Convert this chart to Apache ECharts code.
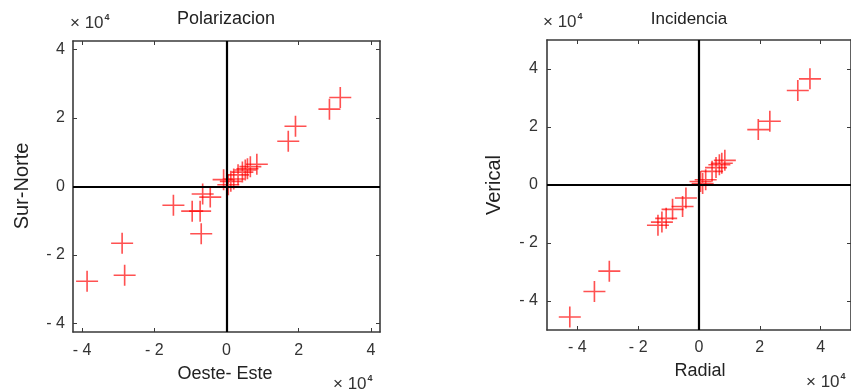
<!DOCTYPE html>
<html>
<head>
<meta charset="utf-8">
<script src="https://cdn.jsdelivr.net/npm/echarts@6/dist/echarts.min.js"></script>
<style>
  html, body { margin: 0; padding: 0; background: #fff; }
  #chart { width: 851px; height: 392px; }
</style>
</head>
<body>
<div id="chart"></div>
<script>
// Values in units of 10^4
const polEsteOeste = [-3.86, -2.89, -2.82, -1.47, -0.95, -0.73, -0.70, -0.66, -0.45, -0.08, 0.05, 0.12, 0.20, 0.32, 0.44, 0.52, 0.58, 0.66, 0.84, 1.71, 1.91, 2.85, 3.15];
const polSurNorte  = [-2.77, -1.66, -2.59, -0.55, -0.72, -0.72, -1.38, -0.22, -0.31, 0.20, 0.05, 0.15, 0.22, 0.34, 0.42, 0.48, 0.52, 0.58, 0.65, 1.32, 1.76, 2.26, 2.60];

const incRadial   = [-4.25, -3.44, -2.95, -1.35, -1.22, -1.08, -0.87, -0.54, -0.43, 0.05, 0.12, 0.22, 0.43, 0.56, 0.67, 0.75, 0.85, 1.95, 2.33, 3.25, 3.65];
const incVertical = [-4.55, -3.67, -2.97, -1.39, -1.28, -1.15, -0.84, -0.74, -0.45, 0.12, 0.05, 0.18, 0.47, 0.60, 0.70, 0.75, 0.85, 1.91, 2.20, 3.26, 3.66];

const tickValues = [-4, -2, 0, 2, 4];

const FONT = '"Liberation Sans", Arial, sans-serif';
const AXIS_COLOR = '#3a3a3a';
const TEXT_COLOR = '#333';

function pairs(xs, ys) { return xs.map((x, i) => [x, ys[i]]); }

function fmt(v) { return v < 0 ? '- ' + Math.abs(v) : String(v); }

function axisBase(grid, lim) {
  return {
    gridIndex: grid, type: 'value', min: -lim, max: lim,
    splitLine: { show: false },
    axisLine: { show: true, onZero: false, lineStyle: { color: AXIS_COLOR, width: 1.6 } },
    axisTick: { show: true, inside: true, length: 4, customValues: tickValues, lineStyle: { color: AXIS_COLOR } }
  };
}

function tickLabels(margin) {
  return { customValues: tickValues, formatter: fmt, color: TEXT_COLOR, fontSize: 16, fontFamily: FONT, margin: margin };
}

function xAxes(grid, lim, margin) {
  return [
    Object.assign(axisBase(grid, lim), { position: 'bottom', axisLabel: tickLabels(margin) }),
    Object.assign(axisBase(grid, lim), { position: 'top', axisLabel: { show: false } })
  ];
}

function yAxes(grid, lim, margin) {
  return [
    Object.assign(axisBase(grid, lim), { position: 'left', axisLabel: tickLabels(margin) }),
    Object.assign(axisBase(grid, lim), { position: 'right', axisLabel: { show: false } })
  ];
}

const crossSymbol = 'path://M0,10H20M10,0V20';

function crossSeries(data, xi, yi) {
  return {
    type: 'scatter', xAxisIndex: xi, yAxisIndex: yi, data: data,
    symbol: crossSymbol, symbolSize: [22, 21],
    itemStyle: { color: 'transparent', borderColor: 'rgba(255,0,0,0.85)', borderWidth: 1.6 },
    markLine: {
      silent: true, symbol: 'none', label: { show: false },
      lineStyle: { color: '#000', width: 2.2, type: 'solid' },
      data: [{ xAxis: 0 }, { yAxis: 0 }]
    },
    z: 3
  };
}

function sciText(x, y) {
  return {
    type: 'text', left: x, top: y,
    style: {
      text: '{a|× 10}{b|4}',
      rich: {
        a: { fontSize: 17, fontFamily: FONT, fill: TEXT_COLOR },
        b: { fontSize: 9, fontFamily: FONT, fill: TEXT_COLOR, fontWeight: 'bold', verticalAlign: 'top', padding: [0, 0, 11, 1] }
      }
    }
  };
}

function label(text, cx, cy, size, rot) {
  return {
    type: 'text', x: cx, y: cy, rotation: rot || 0,
    style: { text: text, fontSize: size, fontFamily: FONT, fill: '#222', align: 'center', verticalAlign: 'middle' }
  };
}

const chart = echarts.init(document.getElementById('chart'));
chart.setOption({
  animation: false,
  backgroundColor: '#fff',
  grid: [
    { left: 73, top: 41, width: 307, height: 291 },
    { left: 547, top: 40, width: 307, height: 290 }
  ],
  xAxis: [].concat(xAxes(0, 4.25, 11), xAxes(1, 5, 10)),
  yAxis: [].concat(yAxes(0, 4.25, 8), yAxes(1, 5, 9)),
  series: [
    crossSeries(pairs(polEsteOeste, polSurNorte), 0, 0),
    crossSeries(pairs(incRadial, incVertical), 2, 2)
  ],
  graphic: [
    label('Polarizacion', 226, 19, 18),
    label('Incidencia', 689, 19, 17),
    label('Oeste- Este', 225, 374, 18),
    label('Radial', 700, 371, 18),
    label('Sur-Norte', 22, 186, 20, Math.PI / 2),
    label('Verical', 494, 185, 20, Math.PI / 2),
    sciText(70, 13),
    sciText(543, 12),
    sciText(333, 374),
    sciText(806, 372)
  ]
});
</script>
</body>
</html>
